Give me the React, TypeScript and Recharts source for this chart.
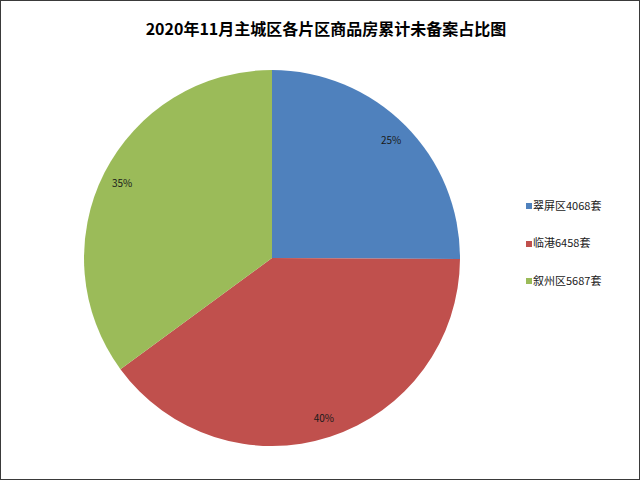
import React from 'react'
import { PieChart, Pie, Cell, Legend } from 'recharts'

const districts = ['翠屏区', '临港', '叙州区']
const unsold = [4068, 6458, 5687]
const colors = ['#4F81BD', '#C0504D', '#9BBB59']
const title = '2020年11月主城区各片区商品房累计未备案占比图'

const data = districts.map((name, i) => ({ name, value: unsold[i] }))

const RAD = Math.PI / 180
const font = '"Noto Sans CJK SC", "Noto Sans", sans-serif'

const renderLabel = (props: any) => {
  const { cx, cy, midAngle, percent } = props
  const r = 168
  const x = cx + r * Math.cos(-midAngle * RAD)
  const y = cy + r * Math.sin(-midAngle * RAD)
  return (
    <text x={x} y={y} fill='#1a1a1a' fontSize={10} fontFamily={font} textAnchor='middle' dominantBaseline='central'>
      {Math.round(percent * 100)}%
    </text>
  )
}

const renderLegend = () => (
  <div style={{ fontFamily: font, fontSize: 11, color: '#1a1a1a' }}>
    {data.map((d, i) => (
      <div key={d.name} style={{ display: 'flex', alignItems: 'center', height: 37.5 }}>
        <span style={{ display: 'inline-block', width: 6, height: 6, background: colors[i], marginRight: 1, marginTop: 3 }} />
        <span>{d.name}{unsold[i]}套</span>
      </div>
    ))}
  </div>
)

export default function App() {
  return (
    <div style={{ position: 'absolute', left: 0, top: 0, width: 640, height: 480, boxSizing: 'border-box', border: '1px solid #3a3a3a', background: '#fff' }}>
      <div style={{ position: 'absolute', left: 0, top: 16, width: 650, textAlign: 'center', fontFamily: font, fontWeight: 'bold', fontSize: 16, color: '#000', lineHeight: '22px' }}>
        {title}
      </div>
      <PieChart width={638} height={478} margin={{ top: 0, right: 0, bottom: 0, left: 0 }} style={{ position: 'absolute', left: 0, top: 0 }}>
        <Pie
          data={data}
          dataKey='value'
          nameKey='name'
          cx={271}
          cy={257}
          outerRadius={188}
          startAngle={90}
          endAngle={-270}
          stroke='none'
          label={renderLabel}
          labelLine={false}
          isAnimationActive={false}
        >
          {data.map((d, i) => (
            <Cell key={d.name} fill={colors[i]} />
          ))}
        </Pie>
        <Legend
          content={renderLegend}
          layout='vertical'
          wrapperStyle={{ position: 'absolute', left: 525, top: 185, width: 110 }}
        />
      </PieChart>
    </div>
  )
}
